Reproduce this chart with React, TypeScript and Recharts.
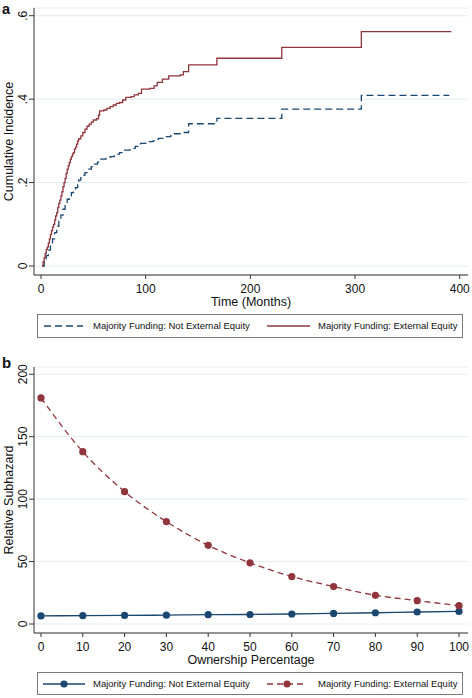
import React from "react";
import { LineChart, Line, XAxis, YAxis, CartesianGrid, Legend } from "recharts";

// Panel a: cumulative incidence step curves (time in months)
const extTimes = [1, 2, 3, 4, 5, 6, 7, 8, 9, 10, 11, 12, 13, 14, 15, 16, 17, 18, 19, 20, 21, 22, 23, 24, 25, 26, 27, 28, 29, 30, 31, 32, 33, 34, 35, 36, 38, 40, 42, 44, 46, 48, 50, 53, 55, 56, 60, 63, 66, 69, 72, 75, 78, 81, 86, 89, 93, 96, 104, 108, 111, 116, 122, 133, 136, 141, 168, 230, 306, 392];
const extValues = [0, 0.01, 0.02, 0.03, 0.04, 0.045, 0.055, 0.065, 0.075, 0.085, 0.093, 0.1, 0.11, 0.12, 0.128, 0.14, 0.15, 0.158, 0.168, 0.178, 0.19, 0.2, 0.21, 0.222, 0.232, 0.24, 0.248, 0.256, 0.262, 0.268, 0.272, 0.28, 0.285, 0.292, 0.3, 0.305, 0.312, 0.32, 0.328, 0.335, 0.34, 0.345, 0.35, 0.353, 0.362, 0.372, 0.374, 0.378, 0.382, 0.386, 0.39, 0.392, 0.398, 0.404, 0.406, 0.41, 0.414, 0.424, 0.426, 0.432, 0.44, 0.448, 0.456, 0.458, 0.466, 0.482, 0.498, 0.524, 0.562, 0.562];

const notExtTimes = [1, 3, 5, 7, 9, 11, 13, 15, 17, 19, 21, 23, 25, 27, 29, 31, 33, 35, 36, 38, 40, 42, 45, 48, 51, 54, 57, 62, 66, 70, 75, 79, 85, 90, 95, 100, 107, 112, 118, 124, 133, 141, 168, 230, 306, 390];
const notExtValues = [0, 0.012, 0.025, 0.038, 0.052, 0.065, 0.08, 0.095, 0.11, 0.122, 0.136, 0.15, 0.16, 0.168, 0.176, 0.182, 0.188, 0.195, 0.206, 0.212, 0.218, 0.224, 0.232, 0.238, 0.244, 0.249, 0.256, 0.258, 0.262, 0.268, 0.272, 0.278, 0.282, 0.287, 0.294, 0.298, 0.3, 0.306, 0.31, 0.317, 0.32, 0.341, 0.354, 0.376, 0.409, 0.409];

const timeTicks = [0, 100, 200, 300, 400];
const incidenceTicks = [0, 0.2, 0.4, 0.6];

// Panel b: relative subhazard by ownership percentage
const ownership = [0, 10, 20, 30, 40, 50, 60, 70, 80, 90, 100];
const extHazard = [181, 138, 106, 82, 63, 49, 38, 30, 23, 18.7, 14.7];
const notExtHazard = [6.5, 6.7, 6.9, 7.1, 7.5, 7.6, 8.0, 8.5, 9.0, 9.6, 10.1];
const hazardTicks = [0, 50, 100, 150, 200];

const extLabel = "Majority Funding: External Equity";
const notExtLabel = "Majority Funding: Not External Equity";

const extData = extTimes.map((t, i) => ({ t, v: extValues[i] }));
const notExtData = notExtTimes.map((t, i) => ({ t, v: notExtValues[i] }));
const hazardData = ownership.map((p, i) => ({ p, ext: extHazard[i], notExt: notExtHazard[i] }));

const FONT = '"Liberation Sans", Arial, Helvetica, sans-serif';
const NAVY = "#1a476f";
const MAROON = "#90353b";
const GRID = "#e3edf1";
const AXIS = "#333";
const TEXT = "#111";

const fmtIncidence = (v: number) => (v === 0 ? "0" : String(v).replace(/^0/, ""));

function RotTick(props: any) {
  const { x, y, payload, fmt } = props;
  const label = fmt ? fmt(payload.value) : String(payload.value);
  return (
    <text x={x} y={y} transform={`rotate(-90 ${x} ${y})`} textAnchor="middle" fontSize={12} fill={TEXT} fontFamily={FONT}>
      {label}
    </text>
  );
}

function XTitle(props: any) {
  const vb = props.viewBox || {};
  const cx = (vb.x ?? 34) + (vb.width ?? 434) / 2;
  const y = (vb.y ?? 275) + 31;
  return (
    <text x={cx} y={y} textAnchor="middle" fontSize={12.5} fill={TEXT} fontFamily={FONT}>
      {props.text}
    </text>
  );
}

function YTitle(props: any) {
  const vb = props.viewBox || {};
  const cy = (vb.y ?? 8) + (vb.height ?? 267) / 2;
  const x = 13.3;
  return (
    <text x={x} y={cy} transform={`rotate(-90 ${x} ${cy})`} textAnchor="middle" fontSize={12.5} fill={TEXT} fontFamily={FONT}>
      {props.text}
    </text>
  );
}

function LegendBox({ dots }: { dots: boolean }) {
  const item = (left: number, width: number, color: string, dash: string | undefined) => (
    <svg style={{ position: "absolute", left, top: 0 }} width={width} height={22}>
      <line x1={0} y1={11} x2={width} y2={11} stroke={color} strokeWidth={1.3} strokeDasharray={dash} />
      {dots && <circle cx={width / 2} cy={11} r={3.6} fill={color} />}
    </svg>
  );
  const text = (left: number, s: string) => (
    <span style={{ position: "absolute", left, top: 0, lineHeight: "22px", whiteSpace: "nowrap" }}>{s}</span>
  );
  return (
    <div
      style={{
        width: 426,
        height: dots ? 23 : 24,
        border: "1px solid #7a7a7a",
        boxSizing: "border-box",
        position: "relative",
        fontFamily: FONT,
        fontSize: 9.5,
        color: TEXT,
        background: "#fff",
      }}
    >
      {dots ? item(5, 42, NAVY, undefined) : item(6, 39, NAVY, "7 4")}
      {text(55, notExtLabel)}
      {dots ? item(229, 40, MAROON, "6 4") : item(229, 43, MAROON, undefined)}
      {text(280, extLabel)}
    </div>
  );
}

const tickStyle = { fontSize: 12, fill: TEXT, fontFamily: FONT };

export default function App() {
  return (
    <div style={{ position: "absolute", left: 0, top: 0, width: 472, height: 698, background: "#fff", fontFamily: FONT }}>
      <svg style={{ position: "absolute", left: 0, top: 0, pointerEvents: "none", zIndex: 2 }} width={472} height={698}>
        <text x={2} y={13.5} fontSize={14.5} fontWeight="bold" fill={TEXT} fontFamily={FONT}>a</text>
        <text x={2} y={368} fontSize={15} fontWeight="bold" fill={TEXT} fontFamily={FONT}>b</text>
      </svg>

      <div style={{ position: "absolute", left: 0, top: 0 }}>
        <LineChart width={472} height={340} margin={{ top: 8, right: 4, bottom: 35, left: 0 }}>
          <CartesianGrid vertical={false} stroke={GRID} />
          <XAxis
            type="number"
            dataKey="t"
            domain={[-6.7, 407.9]}
            ticks={timeTicks}
            allowDataOverflow
            interval={0}
            height={30}
            tickSize={4}
            tickMargin={5}
            axisLine={{ stroke: AXIS }}
            tickLine={{ stroke: AXIS }}
            tick={tickStyle}
            label={<XTitle text="Time (Months)" />}
          />
          <YAxis
            type="number"
            domain={[-0.0216, 0.6185]}
            ticks={incidenceTicks}
            allowDataOverflow
            interval={0}
            width={34}
            tickSize={5}
            tickMargin={2}
            axisLine={{ stroke: AXIS }}
            tickLine={{ stroke: AXIS }}
            tick={<RotTick fmt={fmtIncidence} />}
            label={<YTitle text="Cumulative Incidence" />}
          />
          <Line
            data={notExtData}
            dataKey="v"
            name={notExtLabel}
            type="stepAfter"
            stroke={NAVY}
            strokeWidth={1.3}
            strokeDasharray="7 4"
            dot={false}
            activeDot={false}
            isAnimationActive={false}
          />
          <Line
            data={extData}
            dataKey="v"
            name={extLabel}
            type="stepAfter"
            stroke={MAROON}
            strokeWidth={1.3}
            dot={false}
            activeDot={false}
            isAnimationActive={false}
          />
          <Legend
            layout="horizontal"
            verticalAlign="middle"
            align="center"
            wrapperStyle={{ left: 37, top: 314, width: 426, height: 24 }}
            content={() => <LegendBox dots={false} />}
          />
        </LineChart>
      </div>

      <div style={{ position: "absolute", left: 0, top: 340 }}>
        <LineChart width={472} height={358} data={hazardData} margin={{ top: 27, right: 4, bottom: 35, left: 0 }}>
          <CartesianGrid vertical={false} stroke={GRID} />
          <XAxis
            type="number"
            dataKey="p"
            domain={[-1.67, 102.15]}
            ticks={ownership}
            allowDataOverflow
            interval={0}
            height={30}
            tickSize={4}
            tickMargin={5}
            axisLine={{ stroke: AXIS }}
            tickLine={{ stroke: AXIS }}
            tick={tickStyle}
            label={<XTitle text="Ownership Percentage" />}
          />
          <YAxis
            type="number"
            domain={[-7.2, 205.8]}
            ticks={hazardTicks}
            allowDataOverflow
            interval={0}
            width={34}
            tickSize={5}
            tickMargin={2}
            axisLine={{ stroke: AXIS }}
            tickLine={{ stroke: AXIS }}
            tick={<RotTick />}
            label={<YTitle text="Relative Subhazard" />}
          />
          <Line
            dataKey="notExt"
            name={notExtLabel}
            type="monotone"
            stroke={NAVY}
            strokeWidth={1.3}
            dot={{ r: 3.6, fill: NAVY, stroke: NAVY, strokeWidth: 0 }}
            activeDot={false}
            isAnimationActive={false}
          />
          <Line
            dataKey="ext"
            name={extLabel}
            type="monotone"
            stroke={MAROON}
            strokeWidth={1.3}
            strokeDasharray="6 4"
            dot={{ r: 3.6, fill: MAROON, stroke: MAROON, strokeWidth: 0, strokeDasharray: "0" }}
            activeDot={false}
            isAnimationActive={false}
          />
          <Legend
            layout="horizontal"
            verticalAlign="middle"
            align="center"
            wrapperStyle={{ left: 37, top: 332, width: 426, height: 23 }}
            content={() => <LegendBox dots={true} />}
          />
        </LineChart>
      </div>
    </div>
  );
}
